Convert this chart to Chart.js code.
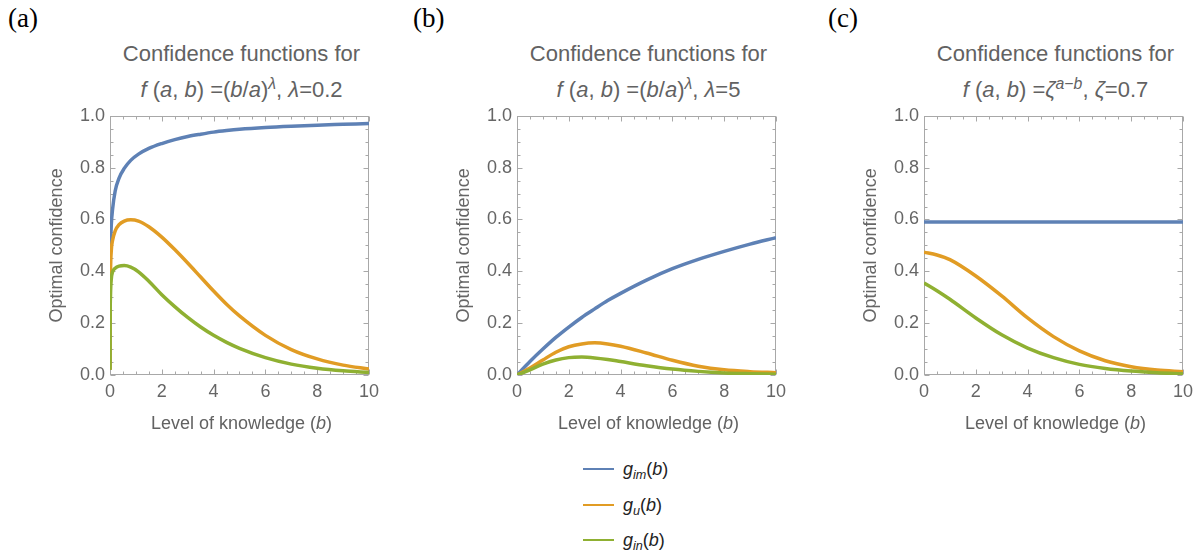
<!DOCTYPE html>
<html><head><meta charset="utf-8">
<script src="https://cdn.jsdelivr.net/npm/chart.js@4/dist/chart.umd.min.js"></script>
<style>
html,body{margin:0;padding:0;background:#fff;}
#wrap{position:relative;width:1203px;height:554px;overflow:hidden;font-family:"Liberation Sans",Arial,sans-serif;}
canvas{position:absolute;top:100px;}
.t{position:absolute;white-space:nowrap;color:#626262;transform:translateX(-50%);}
.t1{font-size:22px;line-height:22px;}
.sup{font-size:72%;vertical-align:0.5em;line-height:0;}
.xt{font-size:18px;line-height:18px;}
.pl{position:absolute;font-family:"Liberation Serif","Times New Roman",serif;font-size:27px;line-height:27px;color:#000;}
.lg{position:absolute;left:583px;width:31px;height:2px;}
.lt{position:absolute;left:623px;font-size:18px;line-height:18px;color:#222;white-space:nowrap;}
.sub{font-size:70%;vertical-align:-0.3em;line-height:0;}
</style></head>
<body>
<div id="wrap">
  <div class="pl" style="left:8px;top:5px;">(a)</div>
  <div class="pl" style="left:413px;top:5px;">(b)</div>
  <div class="pl" style="left:828px;top:5px;">(c)</div>

  <div class="t t1" style="left:241.5px;top:43px;">Confidence functions for</div>
  <div class="t t1" style="left:241.5px;top:79px;"><i>f</i> (<i>a</i>, <i>b</i>) =(<i>b</i>/<i>a</i>)<span class="sup"><i>λ</i></span>, <i>λ</i>=0.2</div>
  <div class="t t1" style="left:648.5px;top:43px;">Confidence functions for</div>
  <div class="t t1" style="left:648.5px;top:79px;"><i>f</i> (<i>a</i>, <i>b</i>) =(<i>b</i>/<i>a</i>)<span class="sup"><i>λ</i></span>, <i>λ</i>=5</div>
  <div class="t t1" style="left:1055.5px;top:43px;">Confidence functions for</div>
  <div class="t t1" style="left:1055.5px;top:79px;"><i>f</i> (<i>a</i>, <i>b</i>) =<i>ζ</i><span class="sup"><i>a</i>−<i>b</i></span>, <i>ζ</i>=0.7</div>

  <canvas id="ca" width="355" height="340" style="left:30px;"></canvas>
  <canvas id="cb" width="355" height="340" style="left:437px;"></canvas>
  <canvas id="cc" width="355" height="340" style="left:844px;"></canvas>

  <div class="t xt" style="left:241.5px;top:414px;">Level of knowledge (<i>b</i>)</div>
  <div class="t xt" style="left:648.5px;top:414px;">Level of knowledge (<i>b</i>)</div>
  <div class="t xt" style="left:1055.5px;top:414px;">Level of knowledge (<i>b</i>)</div>

  <div class="lg" style="top:468px;background:#5E81B5;"></div>
  <div class="lt" style="top:460px;"><i>g</i><span class="sub"><i>im</i></span>(<i>b</i>)</div>
  <div class="lg" style="top:504px;background:#E19C24;"></div>
  <div class="lt" style="top:496px;"><i>g</i><span class="sub"><i>u</i></span>(<i>b</i>)</div>
  <div class="lg" style="top:539px;background:#8FB032;"></div>
  <div class="lt" style="top:531px;"><i>g</i><span class="sub"><i>in</i></span>(<i>b</i>)</div>
</div>
<script>
// ---- tick values ----
const xMajorTicks = [0, 2, 4, 6, 8, 10];
const xMinorTicks = [0.5, 1, 1.5, 2.5, 3, 3.5, 4.5, 5, 5.5, 6.5, 7, 7.5, 8.5, 9, 9.5];
const yMajorTicks = [0, 0.2, 0.4, 0.6, 0.8, 1.0];
const yMinorTicks = [0.05, 0.1, 0.15, 0.25, 0.3, 0.35, 0.45, 0.5, 0.55, 0.65, 0.7, 0.75, 0.85, 0.9, 0.95];

// ---- panel (a): f(a,b)=(b/a)^λ, λ=0.2 ----
const aB  = [0, 0.005, 0.02, 0.05, 0.1, 0.2, 0.35, 0.55, 0.8, 1.1, 1.5, 2, 2.5, 3, 3.5, 4, 4.5, 5, 6, 7, 8, 9, 10];
const aIm = [0.02, 0.40, 0.50, 0.58, 0.64, 0.71, 0.76, 0.797, 0.828, 0.852, 0.874, 0.893, 0.908, 0.920, 0.929, 0.937, 0.943, 0.948, 0.955, 0.960, 0.964, 0.967, 0.970];
const aU  = [0.02, 0.25, 0.40, 0.48, 0.52, 0.556, 0.58, 0.594, 0.599, 0.594, 0.572, 0.532, 0.484, 0.432, 0.378, 0.324, 0.273, 0.228, 0.153, 0.098, 0.062, 0.038, 0.023];
const aIn = [0.02, 0.20, 0.31, 0.37, 0.398, 0.412, 0.420, 0.422, 0.416, 0.398, 0.362, 0.310, 0.264, 0.222, 0.185, 0.153, 0.126, 0.103, 0.067, 0.042, 0.026, 0.016, 0.010];

// ---- panel (b): f(a,b)=(b/a)^λ, λ=5 ----
const bB  = [0, 0.5, 1, 1.5, 2, 2.5, 3, 3.5, 4, 5, 6, 7, 8, 9, 10];
const bIm = [0, 0.052, 0.10, 0.145, 0.185, 0.222, 0.255, 0.287, 0.315, 0.366, 0.41, 0.446, 0.477, 0.505, 0.53];
const bU  = [0, 0.027, 0.058, 0.088, 0.109, 0.120, 0.124, 0.120, 0.111, 0.085, 0.057, 0.034, 0.020, 0.013, 0.009];
const bIn = [0, 0.020, 0.042, 0.058, 0.067, 0.069, 0.066, 0.060, 0.052, 0.036, 0.023, 0.014, 0.008, 0.005, 0.003];

// ---- panel (c): f(a,b)=ζ^(a-b), ζ=0.7 ----
const cB  = [0, 0.5, 1, 2, 3, 4, 5, 6, 7, 8, 9, 10];
const cIm = [0.59, 0.59, 0.59, 0.59, 0.59, 0.59, 0.59, 0.59, 0.59, 0.59, 0.59, 0.59];
const cU  = [0.474, 0.463, 0.445, 0.382, 0.305, 0.220, 0.148, 0.093, 0.055, 0.032, 0.019, 0.013];
const cIn = [0.355, 0.325, 0.292, 0.220, 0.155, 0.104, 0.067, 0.041, 0.025, 0.015, 0.009, 0.005];

const seriesNames = ['g_im(b)', 'g_u(b)', 'g_in(b)'];
const COLORS = ['#5E81B5', '#E19C24', '#8FB032'];
const TXT = '#666666';
const FRAME = '#a8a8a8';

Chart.defaults.font.family = '"Liberation Sans", Arial, sans-serif';

const frameTicks = {
  id: 'frameTicks',
  beforeDatasetsDraw(chart) {
    const {ctx, chartArea: a, scales: {x, y}} = chart;
    const L = Math.round(a.left) + 0.5, R = Math.round(a.right) - 0.5;
    const T = Math.round(a.top) + 0.5, B = Math.round(a.bottom) - 0.5;
    ctx.save();
    ctx.strokeStyle = FRAME;
    ctx.lineWidth = 1;
    ctx.strokeRect(L, T, R - L, B - T);
    ctx.beginPath();
    const xt = (v, len) => {
      const p = Math.round(x.getPixelForValue(v)) + 0.5;
      ctx.moveTo(p, B); ctx.lineTo(p, B - len);
      ctx.moveTo(p, T); ctx.lineTo(p, T + len);
    };
    const yt = (v, len) => {
      const p = Math.round(y.getPixelForValue(v)) + 0.5;
      ctx.moveTo(L, p); ctx.lineTo(L + len, p);
      ctx.moveTo(R, p); ctx.lineTo(R - len, p);
    };
    xMajorTicks.forEach(v => xt(v, 5));
    xMinorTicks.forEach(v => xt(v, 3));
    yMajorTicks.forEach(v => yt(v, 5));
    yMinorTicks.forEach(v => yt(v, 3));
    ctx.stroke();
    ctx.restore();
  }
};

function pts(xs, ys) { return xs.map((v, i) => ({x: v, y: ys[i]})); }

function makePanel(id, xs, im, u, inn) {
  const sets = [im, u, inn];
  new Chart(document.getElementById(id), {
    type: 'line',
    data: {
      datasets: sets.map((s, i) => ({
        label: seriesNames[i],
        data: pts(xs, s),
        borderColor: COLORS[i],
        backgroundColor: COLORS[i],
        borderWidth: 3.5,
        pointRadius: 0,
        fill: false,
        cubicInterpolationMode: 'monotone',
        order: 3 - i
      }))
    },
    options: {
      responsive: false,
      animation: false,
      events: [],
      layout: {padding: {top: 15, right: 12, bottom: 0, left: 0}},
      plugins: {legend: {display: false}, tooltip: {enabled: false}, title: {display: false}},
      scales: {
        x: {
          type: 'linear', min: 0, max: 10,
          grid: {display: false, drawTicks: false},
          border: {display: false},
          afterBuildTicks: s => { s.ticks = xMajorTicks.map(v => ({value: v})); },
          afterFit: s => { s.height = 65; },
          ticks: {padding: 6, color: TXT, font: {size: 18}, maxRotation: 0, autoSkip: false,
                  callback: v => String(v)}
        },
        y: {
          type: 'linear', min: 0, max: 1,
          grid: {display: false, drawTicks: false},
          border: {display: false},
          afterBuildTicks: s => { s.ticks = yMajorTicks.map(v => ({value: v})); },
          afterFit: s => { s.width = 80; },
          ticks: {padding: 5, color: TXT, font: {size: 18}, autoSkip: false,
                  callback: v => Number(v).toFixed(1)},
          title: {display: true, text: 'Optimal confidence', color: TXT, font: {size: 18},
                  padding: {top: 16, bottom: 0}}
        }
      }
    },
    plugins: [frameTicks]
  });
}

makePanel('ca', aB, aIm, aU, aIn);
makePanel('cb', bB, bIm, bU, bIn);
makePanel('cc', cB, cIm, cU, cIn);
</script>
</body></html>
